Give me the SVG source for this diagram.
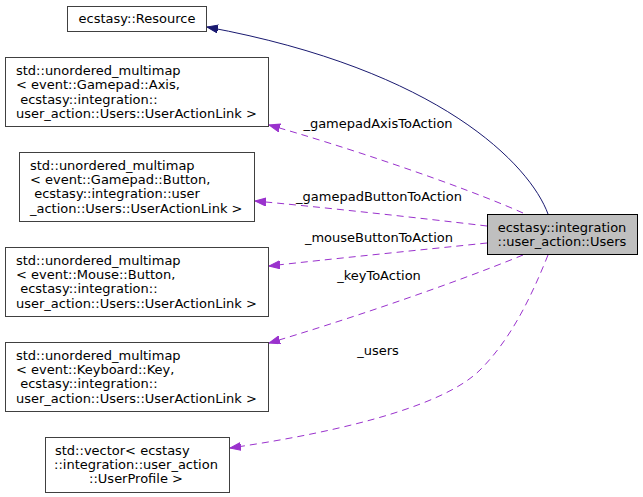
<svg xmlns="http://www.w3.org/2000/svg" width="643" height="497" viewBox="0 0 643 497">
<style>
text{font-family:"DejaVu Sans","Liberation Sans",sans-serif;font-size:13px;fill:#000;white-space:pre}
.box{fill:#fff;stroke:#404040;stroke-width:1}
.cur{fill:#bfbfbf;stroke:#000;stroke-width:1}
.m{fill:none;stroke:#9a32cd;stroke-width:1;stroke-dasharray:7,5}
.inh{fill:none;stroke:#191970;stroke-width:1}
.c{text-anchor:middle}
</style>
<defs>
<marker id="ap" markerUnits="userSpaceOnUse" markerWidth="12" markerHeight="9" refX="11" refY="4" orient="auto">
<path d="M0,0 L11,4 L0,8 z" fill="#9a32cd" stroke="#9a32cd"/>
</marker>
<marker id="an" markerUnits="userSpaceOnUse" markerWidth="12" markerHeight="9" refX="11" refY="4" orient="auto">
<path d="M0,0 L11,4 L0,8 z" fill="#191970" stroke="#191970"/>
</marker>
</defs>
<g id="connectors">
<path class="inh" d="M548,214 C530,165 440,70 207,27" marker-end="url(#an)"/>
<path class="m" d="M523,213 C460,185 340,145 269,125" marker-end="url(#ap)"/>
<path class="m" d="M487,226 C420,218 320,207 255,201" marker-end="url(#ap)"/>
<path class="m" d="M487,243 C420,250 330,259 269,266" marker-end="url(#ap)"/>
<path class="m" d="M523,255 C450,285 340,322 269,343" marker-end="url(#ap)"/>
<path class="m" d="M548,255 C530,300 510,340 480,370 C440,410 320,435 230,448" marker-end="url(#ap)"/>
<text class="c" x="378" y="128">_gamepadAxisToAction</text>
<text class="c" x="379" y="201">_gamepadButtonToAction</text>
<text class="c" x="379" y="242">_mouseButtonToAction</text>
<text class="c" x="379" y="280">_keyToAction</text>
<text class="c" x="378" y="355">_users</text>
</g>
<g id="users">
<rect class="cur" x="487.5" y="214.5" width="150" height="40"/>
<text class="c" x="562" y="231.5">ecstasy::integration</text>
<text class="c" x="562" y="245.8">::user_action::Users</text>
</g>
<g id="resource">
<rect class="box" x="67.5" y="6.5" width="139" height="25"/>
<text class="c" x="137" y="23">ecstasy::Resource</text>
</g>
<g id="axis">
<rect class="box" x="5.5" y="57.5" width="263" height="69"/>
<text x="16" y="75.2">std::unordered_multimap</text>
<text x="16" y="89.4">&lt; event::Gamepad::Axis,</text>
<text x="16" y="103.7"> ecstasy::integration::</text>
<text x="16" y="118">user_action::Users::UserActionLink &gt;</text>
</g>
<g id="gpbutton">
<rect class="box" x="19.5" y="152.5" width="235" height="69"/>
<text x="30" y="169.6">std::unordered_multimap</text>
<text x="30" y="183.9">&lt; event::Gamepad::Button,</text>
<text x="30" y="198.2"> ecstasy::integration::user</text>
<text x="30" y="212.5">_action::Users::UserActionLink &gt;</text>
</g>
<g id="mouse">
<rect class="box" x="5.5" y="247.5" width="263" height="69"/>
<text x="16" y="264.6">std::unordered_multimap</text>
<text x="16" y="278.9">&lt; event::Mouse::Button,</text>
<text x="16" y="293.2"> ecstasy::integration::</text>
<text x="16" y="307.5">user_action::Users::UserActionLink &gt;</text>
</g>
<g id="keyboard">
<rect class="box" x="5.5" y="342.5" width="263" height="69"/>
<text x="16" y="359.6">std::unordered_multimap</text>
<text x="16" y="373.9">&lt; event::Keyboard::Key,</text>
<text x="16" y="388.2"> ecstasy::integration::</text>
<text x="16" y="402.5">user_action::Users::UserActionLink &gt;</text>
</g>
<g id="vector">
<rect class="box" x="45.5" y="437.5" width="184" height="55"/>
<text x="55" y="454.8">std::vector&lt; ecstasy</text>
<text class="c" x="136" y="469.1">::integration::user_action</text>
<text class="c" x="136" y="483.4">::UserProfile &gt;</text>
</g>
</svg>
